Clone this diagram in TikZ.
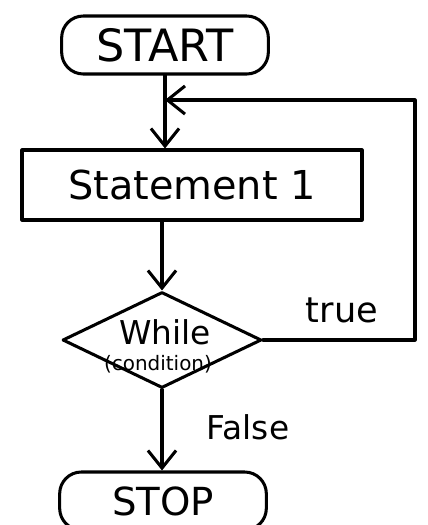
\documentclass[tikz,border=0pt]{standalone}
\usepackage{fontspec}
\setmainfont{DejaVu Sans}
\usetikzlibrary{arrows.meta,shapes.geometric}
\begin{document}
\begin{tikzpicture}[x=0.03cm,y=-0.03cm,
  line width=2.6pt,line cap=round,line join=round,
  flow/.style={-{Straight Barb[length=15pt,width=24pt,line width=2.6pt]}},
  terminal/.style={draw,rounded corners=0.65cm,minimum width=6.2cm,minimum height=1.74cm,inner sep=0pt},
  process/.style={draw,minimum width=10.2cm,minimum height=2.1cm,inner sep=0pt},
  decision/.style={draw,diamond,minimum width=5.97cm,minimum height=2.88cm,inner sep=0pt},
  tag/.style={inner sep=0pt}]
\useasboundingbox (0,0) rectangle (428,525);
\clip (0,0) rectangle (428,525);

% blocks
\node[terminal] (start) at (165,45) {\fontsize{38}{40}\selectfont START};
\node[process] (stmt) at (192,185) {\fontsize{34}{38}\selectfont Statement 1};
\node[decision] (cond) at (162,340) {};
\node[tag] (condA) at (165,332) {\fontsize{28}{30}\selectfont While};
\node[tag] (condB) at (158,364) {\fontsize{17}{18}\selectfont (condition)};
\node[terminal] (stop) at (163,501) {\fontsize{33}{36}\selectfont STOP};

% branch labels
\node[tag] (ltrue) at (342,310) {\fontsize{30}{32}\selectfont true};
\node[tag] (lfalse) at (248,427) {\fontsize{28}{30}\selectfont False};

% loop-back corners
\coordinate (join) at (start.south |- 0,100);
\coordinate (rb) at (415,0 |- cond.east);
\coordinate (rt) at (415,100);

% connectors
\draw[flow] (start.south) -- (start.south |- stmt.north);
\draw[flow] (cond.north |- stmt.south) -- (cond.north);
\draw[flow] (cond.south) -- (cond.south |- stop.north);
\draw[flow] (cond.east) -- (rb) -- (rt) -- (join);
\end{tikzpicture}
\end{document}
